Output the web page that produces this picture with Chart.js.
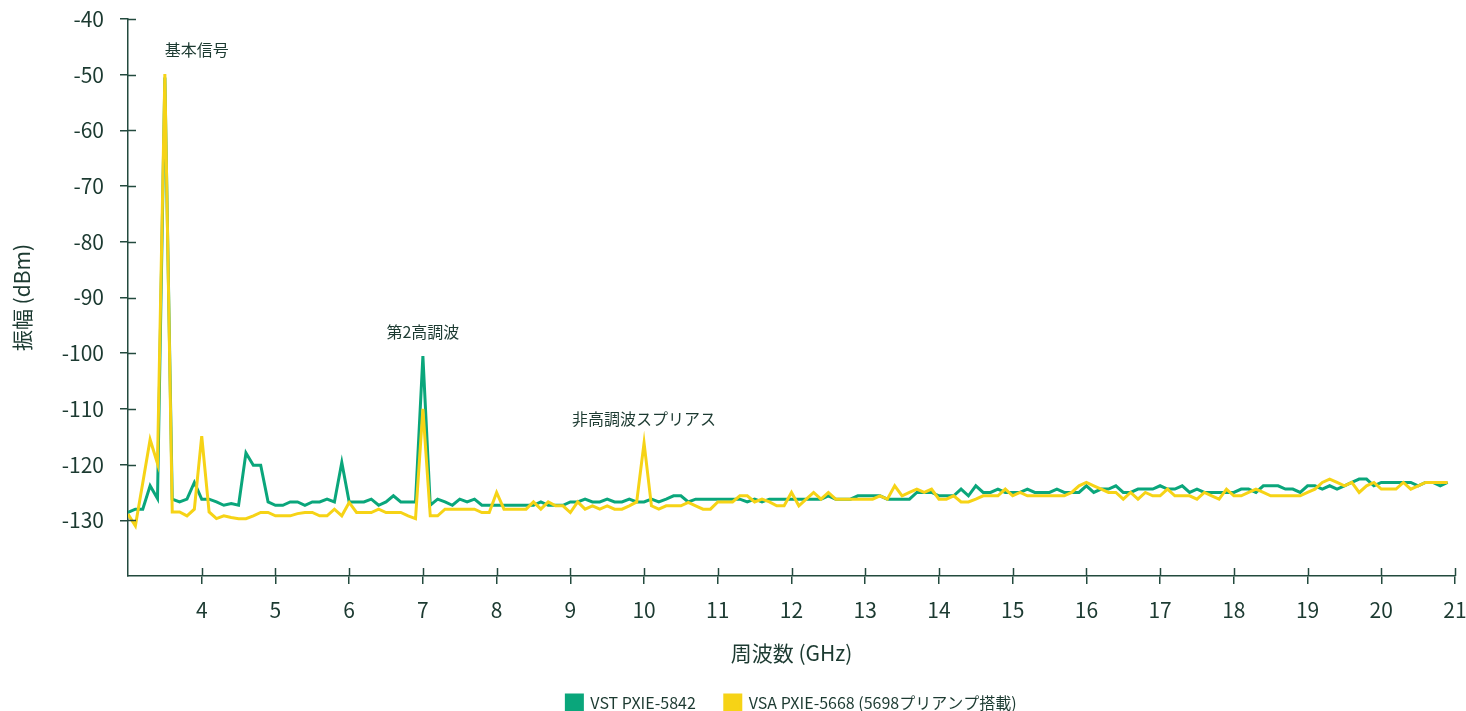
<!DOCTYPE html>
<html lang="ja">
<head>
<meta charset="utf-8">
<title>スペクトラム比較</title>
<script src="https://cdn.jsdelivr.net/npm/chart.js@4/dist/chart.umd.min.js"></script>
<style>
html,body{margin:0;padding:0;background:#fff}
#wrap{width:1466px;height:711px;position:relative}
</style>
</head>
<body>
<div id="wrap"><canvas id="spectrum"></canvas></div>
<script>

// sweep grid: 3.0 GHz start, 0.1 GHz step
let freqStart = 3.0
let freqStep = 0.1

let vstLevels = [
-128.6,-128.0,-128.0,-123.8,-126.1,-50.5,-126.2,-126.7,-126.2,-123.2,
-126.2,-126.2,-126.7,-127.3,-127.0,-127.3,-117.9,-120.1,-120.1,-126.7,
-127.3,-127.3,-126.7,-126.7,-127.3,-126.7,-126.7,-126.2,-126.7,-119.6,
-126.7,-126.7,-126.7,-126.2,-127.3,-126.7,-125.6,-126.7,-126.7,-126.7,
-100.5,-127.3,-126.2,-126.7,-127.3,-126.2,-126.7,-126.2,-127.3,-127.3,
-127.3,-127.3,-127.3,-127.3,-127.3,-127.3,-126.7,-127.3,-127.3,-127.3,
-126.7,-126.7,-126.2,-126.7,-126.7,-126.2,-126.7,-126.7,-126.2,-126.7,
-126.7,-126.2,-126.7,-126.2,-125.6,-125.6,-126.7,-126.2,-126.2,-126.2,
-126.2,-126.2,-126.2,-126.2,-126.7,-126.2,-126.7,-126.2,-126.2,-126.2,
-126.2,-126.2,-126.2,-126.2,-126.2,-125.6,-126.2,-126.2,-126.2,-125.6,
-125.6,-125.6,-125.6,-126.2,-126.2,-126.2,-126.2,-125.0,-125.0,-125.0,
-125.6,-125.6,-125.6,-124.4,-125.6,-123.8,-125.0,-125.0,-124.4,-125.0,
-125.0,-125.0,-124.4,-125.0,-125.0,-125.0,-124.4,-125.0,-125.0,-125.0,
-123.8,-125.0,-124.4,-124.4,-123.8,-125.0,-125.0,-124.4,-124.4,-124.4,
-123.8,-124.4,-124.4,-123.8,-125.0,-124.4,-125.0,-125.0,-125.0,-125.0,
-125.0,-124.4,-124.4,-125.0,-123.8,-123.8,-123.8,-124.4,-124.4,-125.0,
-123.8,-123.8,-124.4,-123.8,-124.4,-123.8,-123.2,-122.6,-122.6,-123.8,
-123.2,-123.2,-123.2,-123.2,-123.2,-123.8,-123.2,-123.2,-123.8,-123.2
]

let vsaLevels = [
-128.9,-131.0,-123.3,-115.5,-119.8,-49.9,-128.5,-128.5,-129.2,-128.0,
-114.9,-128.5,-129.7,-129.2,-129.5,-129.7,-129.7,-129.2,-128.6,-128.6,
-129.2,-129.2,-129.2,-128.8,-128.6,-128.6,-129.2,-129.2,-128.0,-129.2,
-126.8,-128.6,-128.6,-128.6,-128.0,-128.6,-128.6,-128.6,-129.2,-129.7,
-110.0,-129.2,-129.2,-128.0,-128.0,-128.0,-128.0,-128.0,-128.6,-128.6,
-125.0,-128.0,-128.0,-128.0,-128.0,-126.7,-128.0,-126.7,-127.4,-127.4,
-128.6,-126.7,-128.0,-127.4,-128.0,-127.4,-128.0,-128.0,-127.4,-126.7,
-116.1,-127.4,-128.0,-127.4,-127.4,-127.4,-126.8,-127.4,-128.0,-128.0,
-126.7,-126.7,-126.7,-125.6,-125.6,-126.7,-126.2,-126.7,-127.4,-127.4,
-125.0,-127.4,-126.2,-125.0,-126.2,-125.0,-126.2,-126.2,-126.2,-126.2,
-126.2,-126.2,-125.6,-126.2,-123.8,-125.6,-125.0,-124.4,-125.0,-124.4,
-126.2,-126.2,-125.6,-126.7,-126.7,-126.2,-125.6,-125.6,-125.6,-124.4,
-125.6,-125.0,-125.6,-125.6,-125.6,-125.6,-125.6,-125.6,-125.0,-123.8,
-123.2,-123.8,-124.4,-125.0,-125.0,-126.2,-125.0,-126.2,-125.0,-125.6,
-125.6,-124.4,-125.6,-125.6,-125.6,-126.2,-125.0,-125.6,-126.2,-124.4,
-125.6,-125.6,-125.0,-124.4,-125.0,-125.6,-125.6,-125.6,-125.6,-125.6,
-125.0,-124.4,-123.2,-122.6,-123.2,-123.8,-123.2,-125.0,-123.8,-123.2,
-124.4,-124.4,-124.4,-123.2,-124.4,-123.8,-123.2,-123.2,-123.2,-123.2
]

let seriesNames = ["VST PXIE-5842", "VSA PXIE-5668 (5698プリアンプ搭載)"]

// peak callouts: frequency, level, text, alignment
let peakLabels = [
{ f: 3.5, level: -49.9, text: "基本信号", align: "left" },
{ f: 7.0, level: -100.5, text: "第2高調波", align: "center" },
{ f: 10.0, level: -116.1, text: "非高調波スプリアス", align: "center" }
]

let axisColor = "#234a3e"
let textColor = "#1c3a31"
let fontFamily = "'Noto Sans CJK JP','Noto Sans',sans-serif"
let clear = "rgba(0,0,0,0)"

function toPoints(levels){
return levels.map((v, i) => ({ x: +(freqStart + i * freqStep).toFixed(1), y: v }))
}

// inner half of the tick marks, so they cross the axis lines
let crossTicks = {
id: "crossTicks",
afterDraw(chart){
let ctx = chart.ctx
let xs = chart.scales.x
let ys = chart.scales.y
ctx.save()
ctx.strokeStyle = axisColor
ctx.lineWidth = 1.5
xs.ticks.forEach(t => {
if(t.value <= xs.min) return
let px = Math.round(xs.getPixelForValue(t.value)) + 0.5
ctx.beginPath()
ctx.moveTo(px, xs.top - 8)
ctx.lineTo(px, xs.top)
ctx.stroke()
})
ys.ticks.forEach(t => {
if(t.value <= ys.min) return
let py = Math.round(ys.getPixelForValue(t.value)) + 0.5
ctx.beginPath()
ctx.moveTo(ys.right, py)
ctx.lineTo(ys.right + 8, py)
ctx.stroke()
})
ctx.restore()
}
}

let peakText = {
id: "peakText",
afterDatasetsDraw(chart){
let ctx = chart.ctx
let xs = chart.scales.x
let ys = chart.scales.y
ctx.save()
ctx.fillStyle = textColor
ctx.font = "16px " + fontFamily
ctx.textBaseline = "middle"
peakLabels.forEach(p => {
ctx.textAlign = p.align
ctx.fillText(p.text, xs.getPixelForValue(p.f), ys.getPixelForValue(p.level) - 24)
})
ctx.restore()
}
}

new Chart(document.getElementById("spectrum"),{
type: "line",
data:{
datasets:[
{
label: seriesNames[0],
data: toPoints(vstLevels),
borderColor: "#0aa67b",
backgroundColor: "#0aa67b",
borderWidth: 3,
pointRadius: 0,
tension: 0,
order: 2
},
{
label: seriesNames[1],
data: toPoints(vsaLevels),
borderColor: "#f6d316",
backgroundColor: "#f6d316",
borderWidth: 3,
pointRadius: 0,
tension: 0,
order: 1
}
]
},
options:{
responsive: true,
maintainAspectRatio: false,
animation: false,
layout:{ padding:{ top: 19, right: 11, left: 0, bottom: -10 } },
plugins:{
tooltip:{ enabled: false },
legend:{
position: "bottom",
fullSize: false,
labels:{
boxWidth: 16,
boxHeight: 16,
padding: 29,
color: textColor,
font:{ family: fontFamily, size: 16 },
sort: (a, b) => a.datasetIndex - b.datasetIndex
}
}
},
scales:{
x:{
type: "linear",
min: 3,
max: 21,
afterFit(scale){
scale.height = 90
scale.paddingLeft = 0
scale.paddingRight = 0
},
border:{ color: axisColor, width: 1.5 },
grid:{
drawOnChartArea: false,
lineWidth: 1.5,
tickLength: 8,
color: c => c.tick && c.tick.value === 3 ? clear : axisColor
},
ticks:{
stepSize: 1,
padding: 13,
color: textColor,
font:{ family: fontFamily, size: 21 },
callback: v => v === 3 ? "" : v
},
title:{
display: true,
text: "周波数 (GHz)",
color: textColor,
font:{ family: fontFamily, size: 21 },
padding:{ top: 17, bottom: 0 }
}
},
y:{
min: -140,
max: -40,
afterFit(scale){
scale.width = 128
scale.paddingTop = 0
scale.paddingBottom = 0
},
border:{ color: axisColor, width: 1.5 },
grid:{
drawOnChartArea: false,
lineWidth: 1.5,
tickLength: 8,
color: c => c.tick && c.tick.value === -140 ? clear : axisColor
},
ticks:{
stepSize: 10,
padding: 16,
color: textColor,
font:{ family: fontFamily, size: 21 },
callback: v => v === -140 ? "" : v
},
title:{
display: true,
text: "振幅 (dBm)",
color: textColor,
font:{ family: fontFamily, size: 21 },
padding:{ top: 9, bottom: 0 }
}
}
}
},
plugins: [crossTicks, peakText]
})
</script>
</body>
</html>
